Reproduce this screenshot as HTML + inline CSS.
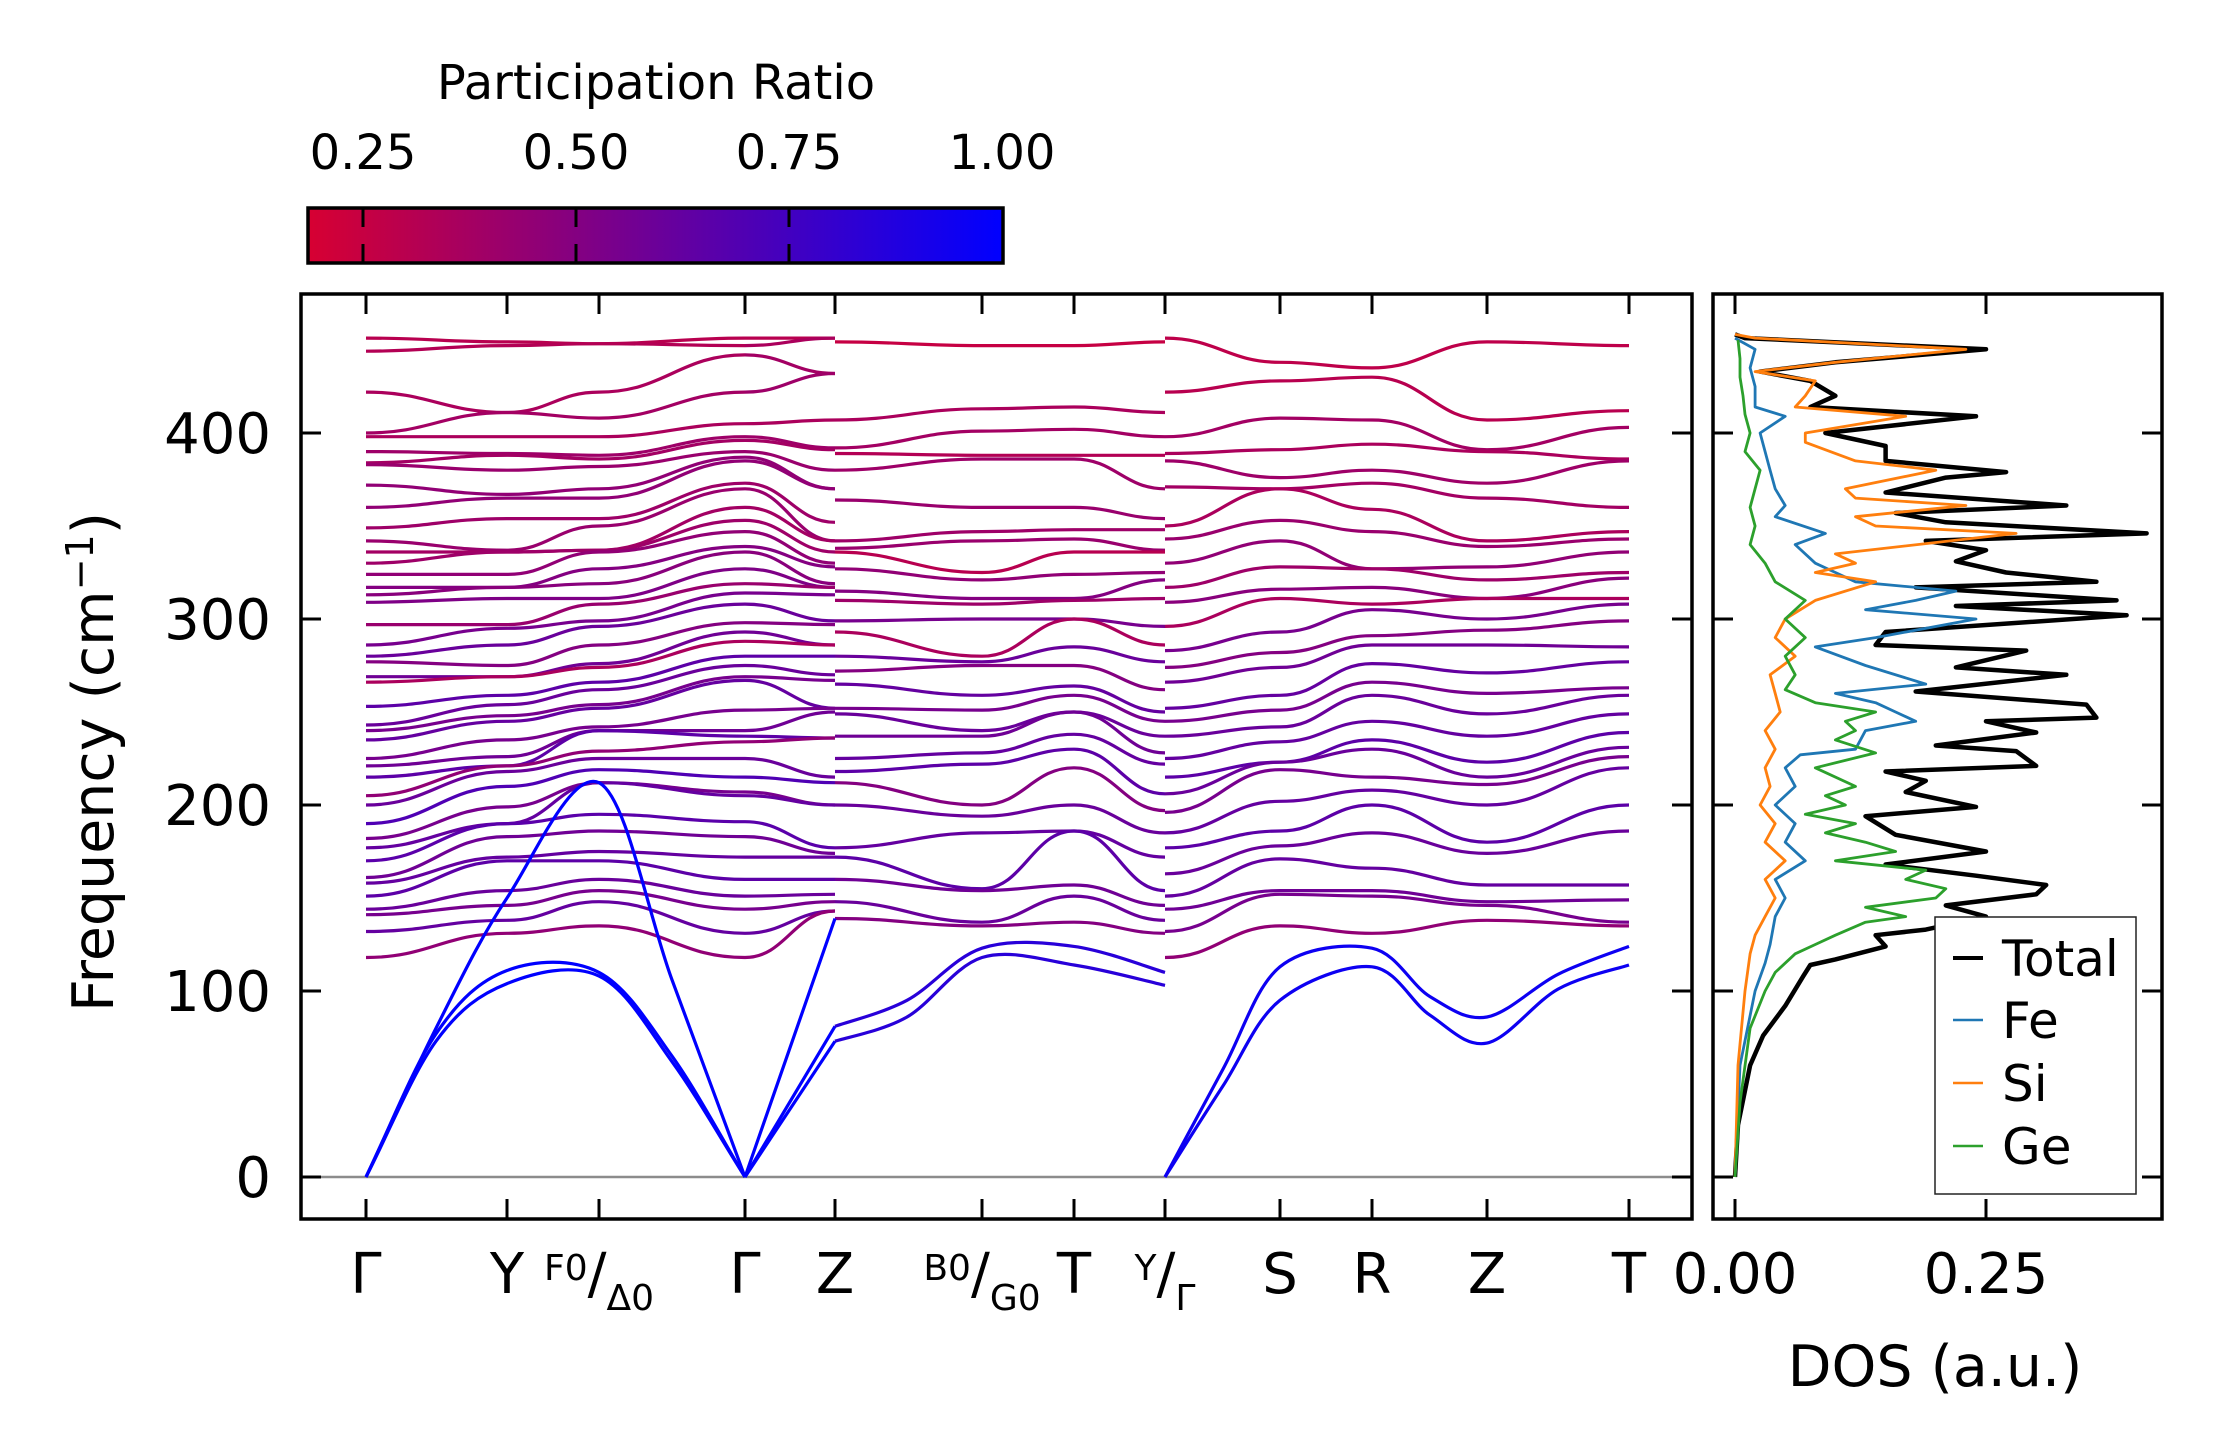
<!DOCTYPE html>
<html><head><meta charset="utf-8"><style>
html,body{margin:0;padding:0;background:#fff;}
svg{display:block;font-family:"DejaVu Sans","Liberation Sans",sans-serif;}
</style></head><body>
<svg id="chart" width="2222" height="1455" viewBox="0 0 2222 1455" xmlns="http://www.w3.org/2000/svg">
<defs><linearGradient id="cbgrad" x1="0" x2="1" y1="0" y2="0">
<stop offset="0" stop-color="rgb(215,0,50)"/><stop offset="1" stop-color="rgb(0,0,255)"/></linearGradient></defs>
<g id="colorbar">
<text x="656" y="99" font-size="48" text-anchor="middle">Participation Ratio</text>
<rect x="308" y="208" width="695" height="55" fill="url(#cbgrad)" stroke="#000" stroke-width="3.5"/>
</g>
<g id="bands"></g>
<g id="dos"></g>
<g id="axes"></g>
<g id="legend">
<rect x="1935" y="917" width="201" height="277" fill="#fff" stroke="#222" stroke-width="1.5"/>
<line x1="1953" x2="1983" y1="958" y2="958" stroke="#000" stroke-width="4"/>
<text x="2002" y="976" font-size="50">Total</text>
<line x1="1953" x2="1983" y1="1020" y2="1020" stroke="#1f77b4" stroke-width="2.5"/>
<text x="2002" y="1038" font-size="50">Fe</text>
<line x1="1953" x2="1983" y1="1083" y2="1083" stroke="#ff7f0e" stroke-width="2.5"/>
<text x="2002" y="1101" font-size="50">Si</text>
<line x1="1953" x2="1983" y1="1146" y2="1146" stroke="#2ca02c" stroke-width="2.5"/>
<text x="2002" y="1164" font-size="50">Ge</text>
</g>
</svg>
<script>
// ---- k-path ----
const kTickPos = [0, 141, 233, 379, 469, 616, 708, 799, 914, 1006, 1121, 1263];
const kTickLabels = ["Γ","Y","F0/Δ0","Γ","Z","B0/G0","T","Y/Γ","S","R","Z","T"];
const freqTicks = [0, 100, 200, 300, 400];
const dosTicks = [0, 0.25];
const cbTicks = [0.25, 0.5, 0.75, 1.0];
// ---- segment 1: Γ-Y-F0-Γ (optical, sorted per node) ----
const seg1K = [0, 141, 233, 379];
const seg1Gamma = [451,444,422,400,398,390,384,383,372,360,349,342,336,330,324,317,313,309,297,286,280,277,269,266,253,243,240,235,225,221,215,205,200,190,182,177,170,161,158,151,144,141,132,118];
const seg1Y = [449,447,411,411,398,389,388,380,367,365,354,337,336,336,324,317,317,311,297,295,286,275,269,269,259,254,248,245,235,226,221,221,218,210,199,190,190,183,172,170,154,146,138,131];
const seg1F = [448,448,422,408,398,388,386,382,370,365,354,350,337,337,336,327,319,311,308,299,296,286,276,274,266,262,254,252,242,240,240,229,225,219,212,212,195,186,175,170,160,154,148,135];
const seg1GammaEnd = [451,447,442,422,405,398,396,390,387,385,373,370,360,353,347,339,336,327,319,314,308,298,293,288,280,275,269,267,251,240,237,234,225,215,207,205,191,183,172,160,151,144,131,118];
const seg1PR = [0.30,0.32,0.35,0.38,0.35,0.40,0.38,0.42,0.45,0.45,0.40,0.42,0.38,0.40,0.45,0.50,0.48,0.52,0.42,0.55,0.60,0.50,0.58,0.35,0.65,0.60,0.55,0.62,0.55,0.58,0.65,0.45,0.60,0.70,0.55,0.62,0.66,0.58,0.62,0.65,0.60,0.55,0.62,0.45];
// ---- segment 2: Γ-Z ----
const seg2K = [379, 469];
const seg2Z = [451,451,432,432,407,392,391,380,370,370,352,342,342,336,330,328,319,317,317,313,299,297,286,286,280,270,267,252,252,250,236,236,215,212,200,200,177,174,172,160,152,148,143,143];
const seg2PR = [0.30,0.35,0.38,0.40,0.35,0.40,0.38,0.42,0.45,0.45,0.40,0.42,0.38,0.40,0.45,0.50,0.48,0.52,0.42,0.55,0.60,0.50,0.58,0.35,0.65,0.60,0.55,0.62,0.55,0.58,0.65,0.45,0.60,0.70,0.55,0.62,0.66,0.58,0.62,0.65,0.60,0.55,0.62,0.45];
// ---- segment 3: Z-B0-T-Y ----
const seg3K = [469, 616, 708, 799];
const seg3Z = [449,407,392,389,380,364,342,338,336,327,315,310,299,293,280,272,265,252,249,237,225,218,212,200,177,172,160,148,139];
const seg3B = [447,413,401,388,386,360,347,342,325,321,311,308,300,280,277,275,259,251,240,237,228,222,200,194,185,155,154,137,135];
const seg3T = [447,414,402,388,386,360,348,343,336,324,311,310,300,300,285,275,264,259,250,250,238,230,220,200,186,186,157,151,137];
const seg3Y = [449,411,398,388,370,354,348,337,336,325,321,311,296,286,277,262,250,245,237,228,222,206,197,185,172,154,146,138,131];
const seg3PR = [0.25,0.35,0.38,0.32,0.40,0.42,0.40,0.42,0.30,0.45,0.50,0.40,0.55,0.35,0.60,0.50,0.62,0.55,0.60,0.58,0.62,0.65,0.50,0.60,0.62,0.65,0.58,0.60,0.50];
// ---- segment 4: Γ-S-R-Z-T ----
const seg4K = [799, 914, 1006, 1121, 1263];
const seg4Gamma = [451,422,398,389,385,371,350,343,330,317,309,296,283,274,266,252,245,237,225,215,206,196,185,177,163,151,144,132,118];
const seg4S = [438,428,408,391,376,370,370,353,342,328,316,311,293,282,274,259,251,242,234,223,223,219,202,186,178,171,154,152,135];
const seg4R = [435,430,407,394,380,373,359,347,327,327,317,308,305,291,286,276,266,259,245,235,230,215,208,200,185,166,154,151,131];
const seg4Z = [449,407,391,390,373,365,342,339,328,321,311,311,300,294,286,271,260,249,237,223,215,211,200,180,174,157,148,146,138];
const seg4T = [447,412,403,386,385,360,347,343,336,325,322,311,308,299,285,277,263,259,249,239,231,226,220,200,186,157,149,137,135];
const seg4PR = [0.28,0.30,0.38,0.35,0.40,0.38,0.35,0.42,0.45,0.40,0.48,0.35,0.55,0.50,0.58,0.62,0.55,0.60,0.62,0.65,0.60,0.55,0.62,0.65,0.60,0.62,0.58,0.55,0.45];
// ---- acoustic branches ----
const ac1K = [0, 70, 141, 233, 306, 379];
const ac1A = [0, 73, 104, 108, 62, 0];
const ac1B = [0, 77, 111, 110, 65, 0];
const ac1C = [0, 80, 150, 212, 106, 0];
const ac2K = [379, 469];
const ac2A = [0, 139];
const ac2B = [0, 81];
const ac2C = [0, 73];
const ac3K = [469, 541, 616, 708, 799];
const ac3A = [81, 95, 123, 124, 110];
const ac3B = [73, 86, 118, 114, 103];
const ac4K = [799, 857, 914, 1006, 1064, 1121, 1192, 1263];
const ac4A = [0, 58, 113, 123, 97, 86, 109, 124];
const ac4B = [0, 49, 95, 113, 87, 72, 101, 114];
const acPR = [1.0, 1.0, 0.95, 0.85];
// ---- DOS ----
const totFreq = [0,28,60,76,92,108,114,117,124,130,133,140,146,152,157,162,168,175,184,194,199,207,213,218,221,229,232,239,245,247,254,261,270,274,283,286,293,302,307,310,317,320,325,331,337,342,346,352,357,361,368,376,379,385,393,400,409,414,420,428,433,438,445,451,453];
const totVal = [0,0.003,0.015,0.028,0.05,0.068,0.075,0.10,0.15,0.14,0.19,0.25,0.21,0.30,0.31,0.24,0.15,0.25,0.16,0.13,0.24,0.17,0.19,0.15,0.30,0.28,0.20,0.30,0.25,0.36,0.35,0.18,0.33,0.22,0.29,0.14,0.15,0.39,0.22,0.38,0.18,0.36,0.27,0.22,0.25,0.19,0.41,0.21,0.16,0.33,0.15,0.21,0.27,0.15,0.15,0.09,0.24,0.075,0.10,0.075,0.025,0.10,0.25,0.01,0];
const siFreq = [0,60,100,120,130,140,150,160,170,180,190,200,210,220,230,240,250,260,270,280,290,300,310,320,325,330,335,346,350,355,361,365,370,380,385,395,400,409,414,420,428,433,438,445,451,453];
const siVal = [0,0.003,0.01,0.015,0.02,0.03,0.04,0.03,0.05,0.03,0.04,0.025,0.035,0.03,0.04,0.03,0.045,0.04,0.035,0.06,0.04,0.05,0.08,0.14,0.08,0.12,0.10,0.28,0.14,0.12,0.23,0.12,0.11,0.20,0.12,0.07,0.07,0.17,0.06,0.07,0.08,0.02,0.10,0.23,0.02,0];
const feFreq = [0,60,100,115,125,140,150,160,170,180,190,200,210,220,227,230,240,245,250,255,260,265,275,285,290,300,305,310,315,320,325,330,340,346,355,361,370,380,390,400,409,414,425,435,445,451];
const feVal = [0,0.005,0.02,0.03,0.035,0.04,0.05,0.04,0.07,0.05,0.06,0.04,0.06,0.05,0.065,0.12,0.13,0.18,0.16,0.14,0.10,0.19,0.13,0.08,0.14,0.24,0.13,0.18,0.22,0.12,0.10,0.08,0.06,0.09,0.04,0.05,0.04,0.035,0.03,0.025,0.05,0.02,0.02,0.015,0.02,0];
const geFreq = [0,40,80,100,110,120,125,130,137,140,145,150,155,160,165,170,175,180,185,190,195,200,205,210,220,228,235,240,245,250,255,262,270,280,290,300,310,320,330,340,350,360,370,380,390,400,410,420,430,440,450];
const geVal = [0,0.005,0.015,0.03,0.04,0.06,0.08,0.10,0.13,0.17,0.13,0.20,0.21,0.17,0.19,0.10,0.16,0.13,0.09,0.12,0.07,0.11,0.09,0.12,0.08,0.14,0.10,0.12,0.11,0.14,0.08,0.05,0.06,0.05,0.07,0.05,0.07,0.04,0.03,0.015,0.02,0.015,0.02,0.025,0.01,0.015,0.01,0.008,0.005,0.005,0.003];

// ---- scales ----
const NS = "http://www.w3.org/2000/svg";
const PL = 301, PR_ = 1692, PT = 294, PB = 1219;
const DL = 1713, DR = 2162;
function xK(k){ return 366 + k * (PR_ - PL) / (1326 + 65); }
function yF(f){ return 1177 - f * 1.86; }
function xD(d){ return 1735 + d * 1004; }
function xCB(v){ return 363 + (v - 0.25) * 852; }
function prColor(p){
  const t = Math.max(0, Math.min(1, (p - 0.184) / (1 - 0.184)));
  const r = Math.round(215 * (1 - t)), g = 0, b = Math.round(50 + 205 * t);
  return "rgb(" + r + "," + g + "," + b + ")";
}
function mk(tag, attrs, parent){
  const e = document.createElementNS(NS, tag);
  for (const k in attrs) e.setAttribute(k, attrs[k]);
  parent.appendChild(e);
  return e;
}
const bandsG = document.getElementById("bands");
const dosG = document.getElementById("dos");
const axesG = document.getElementById("axes");
const cbG = document.getElementById("colorbar");

function smoothPath(ks, vs){
  let d = "M" + xK(ks[0]).toFixed(1) + " " + yF(vs[0]).toFixed(1);
  for (let i = 1; i < ks.length; i++){
    const x0 = xK(ks[i-1]), x1 = xK(ks[i]), y0 = yF(vs[i-1]), y1 = yF(vs[i]);
    const dx = (x1 - x0) * 0.45;
    d += " C" + (x0+dx).toFixed(1) + " " + y0.toFixed(1) + " " + (x1-dx).toFixed(1) + " " + y1.toFixed(1) + " " + x1.toFixed(1) + " " + y1.toFixed(1);
  }
  return d;
}
function crPath(ks, vs){
  const pts = ks.map((k, i) => [xK(k), yF(vs[i])]);
  let d = "M" + pts[0][0].toFixed(1) + " " + pts[0][1].toFixed(1);
  for (let i = 0; i < pts.length - 1; i++){
    const p0 = pts[Math.max(0, i-1)], p1 = pts[i], p2 = pts[i+1], p3 = pts[Math.min(pts.length-1, i+2)];
    const c1 = [p1[0] + (p2[0]-p0[0])/6, p1[1] + (p2[1]-p0[1])/6];
    const c2 = [p2[0] - (p3[0]-p1[0])/6, p2[1] - (p3[1]-p1[1])/6];
    if (vs[i] === 0) { c1[0] = p1[0] + (p2[0]-p1[0])/3; c1[1] = p1[1] + (p2[1]-p1[1])/3; }
    if (vs[i+1] === 0) { c2[0] = p2[0] - (p2[0]-p1[0])/3; c2[1] = p2[1] - (p2[1]-p1[1])/3; }
    d += " C" + c1[0].toFixed(1) + " " + c1[1].toFixed(1) + " " + c2[0].toFixed(1) + " " + c2[1].toFixed(1) + " " + p2[0].toFixed(1) + " " + p2[1].toFixed(1);
  }
  return d;
}
function drawSegment(ks, nodeLists, prs, name){
  for (let b = 0; b < prs.length; b++){
    const vs = nodeLists.map(l => l[b]);
    const p = mk("path", {d: smoothPath(ks, vs), fill: "none", stroke: prColor(prs[b]), "stroke-width": 3.2}, bandsG);
    
    
  }
}
const zl = mk("line", {x1: PL, x2: PR_, y1: yF(0), y2: yF(0), stroke: "#8c8c8c", "stroke-width": 2.5}, bandsG);



drawSegment(seg1K, [seg1Gamma, seg1Y, seg1F, seg1GammaEnd], seg1PR, "gamma-y-f-gamma");
drawSegment(seg2K, [seg1GammaEnd, seg2Z], seg2PR, "gamma-z");
drawSegment(seg3K, [seg3Z, seg3B, seg3T, seg3Y], seg3PR, "z-b-t-y");
drawSegment(seg4K, [seg4Gamma, seg4S, seg4R, seg4Z, seg4T], seg4PR, "gamma-s-r-z-t");

const acoustic = [[ac1K, ac1A, acPR[0]], [ac1K, ac1B, acPR[0]], [ac1K, ac1C, acPR[0]],
                  [ac2K, ac2A, acPR[1]], [ac2K, ac2B, acPR[1]], [ac2K, ac2C, acPR[1]],
                  [ac3K, ac3A, acPR[3]], [ac3K, ac3B, acPR[3]],
                  [ac4K, ac4A, acPR[2]], [ac4K, ac4B, acPR[2]]];
acoustic.forEach((a, i) => {
  const p = mk("path", {d: crPath(a[0], a[1]), fill: "none", stroke: prColor(a[2]), "stroke-width": 3.2}, bandsG);
  
  
});

function dosLine(fr, vals, color, w, name){
  const pts = fr.map((f, i) => xD(vals[i]).toFixed(1) + "," + yF(f).toFixed(1)).join(" ");
  const pl = mk("polyline", {points: pts, fill: "none", stroke: color, "stroke-width": w, "stroke-linejoin": "round"}, dosG);
  
  
}
dosLine(totFreq, totVal, "#000", 4.5, "dos-total-line");
dosLine(feFreq, feVal, "#1f77b4", 2.8, "dos-fe-line");
dosLine(siFreq, siVal, "#ff7f0e", 2.8, "dos-si-line");
dosLine(geFreq, geVal, "#2ca02c", 2.8, "dos-ge-line");

const f1 = mk("rect", {x: PL, y: PT, width: PR_-PL, height: PB-PT, fill: "none", stroke: "#000", "stroke-width": 3.5}, axesG);


const f2 = mk("rect", {x: DL, y: PT, width: DR-DL, height: PB-PT, fill: "none", stroke: "#000", "stroke-width": 3.5}, axesG);



freqTicks.forEach(f => {
  const y = yF(f);
  [[PL, PL+20], [PR_, PR_-20], [DL, DL+20], [DR, DR-20]].forEach(s => {
    const t = mk("line", {x1: s[0], x2: s[1], y1: y, y2: y, stroke: "#000", "stroke-width": 3}, axesG);
    
    
  });
  const lb = mk("text", {x: 271, y: y + 20, "font-size": 56, "text-anchor": "end"}, axesG);
  lb.textContent = String(f);
  
  
});
kTickPos.forEach((k, i) => {
  const x = xK(k);
  [[PB, PB-20], [PT, PT+20]].forEach(s => {
    const t = mk("line", {x1: x, x2: x, y1: s[0], y2: s[1], stroke: "#000", "stroke-width": 3}, axesG);
    
    
  });
  const lab = kTickLabels[i];
  const tx = mk("text", {x: x, y: 1293, "font-size": 56, "text-anchor": "middle"}, axesG);
  
  
  if (lab.indexOf("/") >= 0) {
    const parts = lab.split("/");
    const a = document.createElementNS(NS, "tspan"); a.setAttribute("font-size", 36); a.setAttribute("dy", "-13"); a.textContent = parts[0];
    const s = document.createElementNS(NS, "tspan"); s.setAttribute("font-size", 56); s.setAttribute("dy", "13"); s.textContent = "/";
    const c = document.createElementNS(NS, "tspan"); c.setAttribute("font-size", 36); c.setAttribute("dy", "17"); c.textContent = parts[1];
    tx.appendChild(a); tx.appendChild(s); tx.appendChild(c);
  } else {
    tx.textContent = lab;
  }
});
dosTicks.forEach(d => {
  const x = xD(d);
  [[PB, PB-20], [PT, PT+20]].forEach(s => {
    const t = mk("line", {x1: x, x2: x, y1: s[0], y2: s[1], stroke: "#000", "stroke-width": 3}, axesG);
    
    
  });
  const lb = mk("text", {x: x, y: 1293, "font-size": 56, "text-anchor": "middle"}, axesG);
  lb.textContent = d.toFixed(2);
  
  
});
const yt = mk("text", {x: 0, y: 0, "font-size": 57, "text-anchor": "middle", transform: "translate(113,762) rotate(-90)"}, axesG);


yt.appendChild(document.createTextNode("Frequency (cm"));
const sup = document.createElementNS(NS, "tspan"); sup.setAttribute("font-size", 38); sup.setAttribute("dy", "-20"); sup.textContent = "−1";
yt.appendChild(sup);
const cl = document.createElementNS(NS, "tspan"); cl.setAttribute("dy", "20"); cl.textContent = ")";
yt.appendChild(cl);
const dt = mk("text", {x: 1935, y: 1386, "font-size": 57, "text-anchor": "middle"}, axesG);
dt.textContent = "DOS (a.u.)";



cbTicks.forEach(v => {
  const x = xCB(v);
  if (v < 1) {
    [[209, 227], [244, 262]].forEach(s => {
      const t = mk("line", {x1: x, x2: x, y1: s[0], y2: s[1], stroke: "#000", "stroke-width": 3}, cbG);
      
      
    });
  }
  const lb = mk("text", {x: x, y: 169, "font-size": 48, "text-anchor": "middle"}, cbG);
  lb.textContent = v.toFixed(2);
  
  
});
</script>
</body></html>
